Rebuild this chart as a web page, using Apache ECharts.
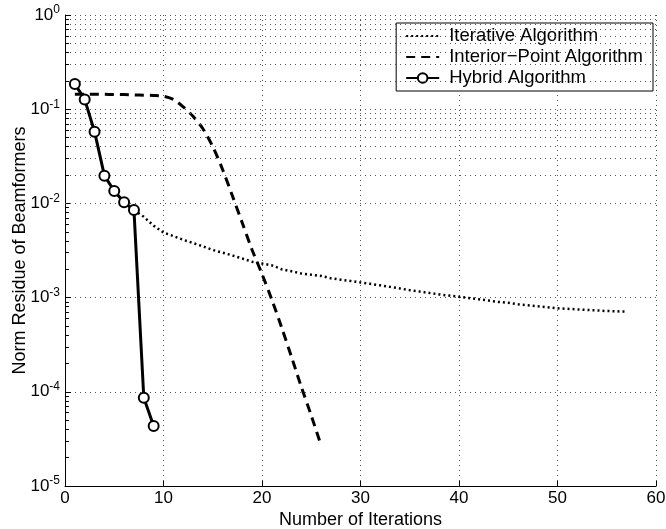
<!DOCTYPE html>
<html>
<head>
<meta charset="utf-8">
<script src="https://cdn.jsdelivr.net/npm/echarts@6/dist/echarts.min.js"></script>
<style>
html,body{margin:0;padding:0;background:#fff}
#chart{width:666px;height:529px}
</style>
</head>
<body>
<div id="chart"></div>
<script>
// values
var iterX = [7,8,9,10,11,12,13,14,15,16,17,18,19,20,21,22,23,24,25,26,27,28,29,30,31,32,33,34,35,36,37,38,39,40,41,42,43,44,45,46,47,48,49,50,51,52,53,54,55,56,57]
var iterY = [0.0085,0.0072,0.0058,0.0049,0.0045,0.0041,0.0038,0.0035,0.0032,0.0030,0.0028,0.0026,0.0024,0.0023,0.0022,0.0020,0.0019,0.0018,0.00175,0.0017,0.0016,0.00155,0.0015,0.00145,0.0014,0.00135,0.0013,0.00125,0.0012,0.00116,0.00112,0.00108,0.00105,0.00102,0.00099,0.00096,0.00093,0.0009,0.00088,0.00085,0.00083,0.00081,0.00079,0.00077,0.00076,0.00075,0.00074,0.00073,0.00072,0.000715,0.00071]
var ipX = [1,2,3,4,5,6,7,8,9,10,11,12,13,14,15,16,17,18,19,20,21,22,23,24,25,26]
var ipY = [0.144,0.144,0.144,0.144,0.143,0.143,0.142,0.141,0.140,0.137,0.127,0.106,0.084,0.062,0.040,0.0229,0.012,0.0062,0.0032,0.00178,0.00095,0.00048,0.000234,0.000112,0.000056,0.000027]
var hybX = [1,2,3,4,5,6,7,8,9]
var hybY = [0.185,0.127,0.0577,0.0197,0.01355,0.01027,0.0085,0.0000865,0.0000434]

var font = 'Liberation Sans, Arial, Helvetica, sans-serif'

function pairs(xs, ys){
	var out = []
	for(var i=0;i<xs.length;i++){ out.push([xs[i], ys[i]]) }
	return out
}

// minor decade lines 2..9 x 10^n, like matlab's log grid
var minorGrid = []
var minorTicks = []
for(var n=-5;n<0;n++){
	for(var k=2;k<10;k++){
		var v = k*Math.pow(10,n)
		minorGrid.push({yAxis: v})
		minorTicks.push([{coord:[0,v]},{coord:[0.4,v]}])
	}
}

var hideSym = {color:'transparent', borderWidth:0, opacity:0}

var chart = echarts.init(document.getElementById('chart'))
var option = {
	animation:false,
	backgroundColor:'#fff',
	grid:{left:65, right:10, top:15, bottom:43, containLabel:false, outerBoundsMode:'none'},
	legend:{
		data:[
			{name:'Iterative Algorithm', itemStyle:hideSym},
			{name:'Interior\u2212Point Algorithm', itemStyle:hideSym},
			{name:'Hybrid Algorithm'}
		],
		orient:'vertical',
		right:13, top:23,
		itemWidth:33, itemHeight:12, itemGap:1,
		padding:[3,10,3,9],
		borderColor:'#000', borderWidth:1,
		backgroundColor:'#fff',
		textStyle:{fontFamily:font, fontSize:18.5, color:'#000', lineHeight:20, padding:[0,0,0,5]}
	},
	xAxis:{
		type:'value', min:0, max:60, interval:10,
		name:'Number of Iterations', nameLocation:'middle', nameGap:25,
		nameMoveOverlap:false,
		nameTextStyle:{fontFamily:font, fontSize:18, color:'#000'},
		axisLine:{lineStyle:{color:'#000', width:1}},
		axisTick:{inside:true, length:5, lineStyle:{color:'#000'}},
		axisLabel:{fontFamily:font, fontSize:17, color:'#000', margin:4},
		splitLine:{show:true, lineStyle:{color:'#555', type:[1,4], width:1}}
	},
	yAxis:{
		type:'log', logBase:10, min:1e-5, max:1,
		name:'Norm Residue of Beamformers', nameLocation:'middle', nameGap:36,
		nameMoveOverlap:false,
		nameTextStyle:{fontFamily:font, fontSize:18, color:'#000'},
		axisLine:{show:true, lineStyle:{color:'#000', width:1}},
		axisTick:{inside:true, length:6, lineStyle:{color:'#000'}},
		axisLabel:{
			margin:5,
			formatter:function(v){
				var e = Math.round(Math.log(v)/Math.LN10)
				return '{b|10}{e|' + e + '}'
			},
			rich:{
				b:{fontFamily:font, fontSize:17, color:'#000'},
				e:{fontFamily:font, fontSize:12, color:'#000', padding:[0,0,10,0]}
			}
		},
		splitLine:{show:true, lineStyle:{color:'#555', type:[1,4], width:1}}
	},
	series:[
		{
			name:'grid',
			type:'line',
			data:[],
			silent:true,
			markLine:{
				silent:true, symbol:'none', animation:false,
				label:{show:false},
				lineStyle:{color:'#555', type:[1,4], width:1},
				data:minorGrid
			}
		},
		{
			name:'ticks',
			type:'line',
			data:[],
			silent:true,
			markLine:{
				silent:true, symbol:'none', animation:false,
				label:{show:false},
				lineStyle:{color:'#000', type:'solid', width:1},
				data:minorTicks
			}
		},
		{
			name:'Iterative Algorithm',
			type:'line',
			data:pairs(iterX, iterY),
			symbol:'none',
			lineStyle:{color:'#000', width:2.5, type:[2,3]},
			itemStyle:{color:'#000'},
			z:3
		},
		{
			name:'Interior\u2212Point Algorithm',
			type:'line',
			data:pairs(ipX, ipY),
			symbol:'none',
			smooth:0.3,
			lineStyle:{color:'#000', width:3, type:[9,6]},
			itemStyle:{color:'#000'},
			z:4
		},
		{
			name:'Hybrid Algorithm',
			type:'line',
			data:pairs(hybX, hybY),
			symbol:'emptyCircle',
			symbolSize:10,
			lineStyle:{color:'#000', width:3},
			itemStyle:{color:'#000', borderColor:'#000', borderWidth:3},
			z:5
		}
	]
}
chart.setOption(option)
</script>
</body>
</html>
